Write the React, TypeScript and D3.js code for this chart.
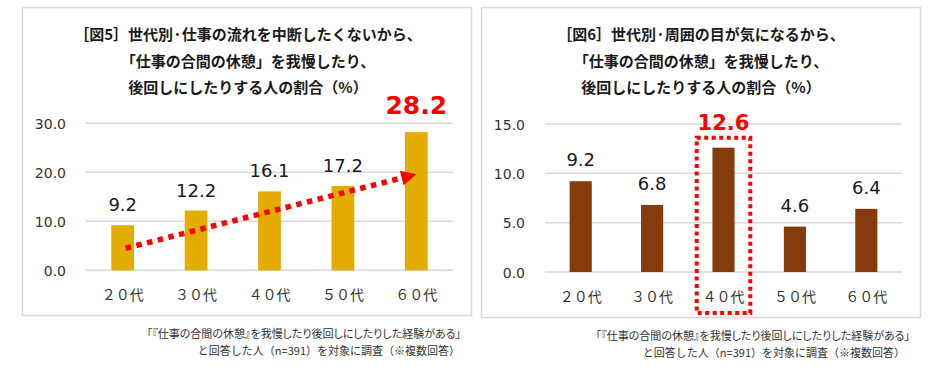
import { scaleBand, scaleLinear, select } from 'd3'
import { useEffect, useRef } from 'react'

const categories = ['２０代', '３０代', '４０代', '５０代', '６０代']
const fig5Values = [9.2, 12.2, 16.1, 17.2, 28.2]
const fig6Values = [9.2, 6.8, 12.6, 4.6, 6.4]
const fig5Ticks = [0, 10, 20, 30]
const fig6Ticks = [0, 5, 10, 15]
const fig5Title = ['［図5］世代別·仕事の流れを中断したくないから、', '「仕事の合間の休憩」を我慢したり、', '後回しにしたりする人の割合（%）']
const fig6Title = ['［図6］世代別·周囲の目が気になるから、', '「仕事の合間の休憩」を我慢したり、', '後回しにしたりする人の割合（%）']
const footnote = ['「『仕事の合間の休憩』を我慢したり後回しにしたりした経験がある」', 'と回答した人（n=391）を対象に調査（※複数回答）']
// trend arrow on fig5: start / end in data terms
const fig5Trend = [
  { category: '２０代', value: 4.5 },
  { category: '６０代', value: 19.6 },
]
const fig5Highlight = '６０代'
const fig6Highlight = '４０代'

const JP = '"Noto Sans CJK JP", "Noto Sans", sans-serif'
const NUM = '"DejaVu Sans", Verdana, sans-serif'
const RED = '#ff0000'

type Panel = {
  box: [number, number, number, number]
  xRange: [number, number]
  yRange: [number, number]
  max: number
  ticks: number[]
  values: number[]
  color: string
  title: string[]
  titleX: number
  catBaseline: number
  foot: { x: number; y: number }[]
}

function drawPanel(svg: any, p: Panel, id: string) {
  const [bx, by, bw, bh] = p.box
  const g = svg.append('g').attr('class', id)
  g.append('rect')
    .attr('x', bx)
    .attr('y', by)
    .attr('width', bw)
    .attr('height', bh)
    .attr('fill', '#fff')
    .attr('stroke', '#d9d9d9')
    .attr('stroke-width', 1.5)

  p.title.forEach((t, i) => {
    g.append('text')
      .attr('x', p.titleX)
      .attr('y', 40 + i * 26.5)
      .attr('text-anchor', 'middle')
      .attr('font-family', JP)
      .attr('font-weight', 'bold')
      .attr('font-size', 15)
      .attr('fill', '#1a1a1a')
      .text(t)
  })

  const x = scaleBand().domain(categories).range(p.xRange).paddingInner(0.69).paddingOuter(0.345)
  const y = scaleLinear().domain([0, p.max]).range(p.yRange)

  g.selectAll('line.grid')
    .data(p.ticks)
    .join('line')
    .attr('class', 'grid')
    .attr('x1', p.xRange[0])
    .attr('x2', p.xRange[1])
    .attr('y1', (d: number) => y(d))
    .attr('y2', (d: number) => y(d))
    .attr('stroke', '#d9d9d9')
    .attr('stroke-width', 1.5)

  g.selectAll('text.tick')
    .data(p.ticks)
    .join('text')
    .attr('class', 'tick')
    .attr('x', p.xRange[0] - 20)
    .attr('y', (d: number) => y(d) + 5.5)
    .attr('text-anchor', 'end')
    .attr('font-family', NUM)
    .attr('font-size', 14)
    .attr('fill', '#333')
    .text((d: number) => d.toFixed(1))

  const rows = categories.map((c, i) => ({ c, v: p.values[i] }))
  g.selectAll('rect.bar')
    .data(rows)
    .join('rect')
    .attr('class', 'bar')
    .attr('x', (d: any) => x(d.c) ?? 0)
    .attr('y', (d: any) => y(d.v))
    .attr('width', x.bandwidth())
    .attr('height', (d: any) => y(0) - y(d.v))
    .attr('fill', p.color)

  g.selectAll('text.cat')
    .data(categories)
    .join('text')
    .attr('class', 'cat')
    .attr('x', (d: string) => (x(d) ?? 0) + x.bandwidth() / 2)
    .attr('y', p.catBaseline)
    .attr('text-anchor', 'middle')
    .attr('font-family', JP)
    .attr('font-size', 14)
    .attr('fill', '#333')
    .text((d: string) => d)

  footnote.forEach((t, i) => {
    g.append('text')
      .attr('x', p.foot[i].x)
      .attr('y', p.foot[i].y)
      .attr('text-anchor', 'end')
      .attr('font-family', JP)
      .attr('font-size', 11)
      .attr('fill', '#333')
      .style('font-feature-settings', i === 0 ? '"palt"' : 'normal')
      .text(t)
  })

  return { g, x, y, rows }
}

export default function App() {
  const ref = useRef<SVGSVGElement>(null)

  useEffect(() => {
    if (!ref.current) return
    const svg = select(ref.current)
    svg.selectAll('*').remove()

    // ---- 図5
    const left = drawPanel(
      svg,
      {
        box: [22.5, 7.5, 449, 308],
        xRange: [86, 453],
        yRange: [270.3, 123.3],
        max: 30,
        ticks: fig5Ticks,
        values: fig5Values,
        color: '#e5ac00',
        title: fig5Title,
        titleX: 248,
        catBaseline: 300,
        foot: [
          { x: 461, y: 337.5 },
          { x: 460, y: 354.5 },
        ],
      },
      'fig5',
    )
    left.g
      .selectAll('text.val')
      .data(left.rows)
      .join('text')
      .attr('class', 'val')
      .attr('x', (d: any) => (left.x(d.c) ?? 0) + left.x.bandwidth() / 2)
      .attr('y', (d: any) => left.y(d.v) - (d.c === fig5Highlight ? 18 : 14))
      .attr('text-anchor', 'middle')
      .attr('font-family', NUM)
      .attr('font-weight', (d: any) => (d.c === fig5Highlight ? 'bold' : 'normal'))
      .attr('font-size', (d: any) => (d.c === fig5Highlight ? 25 : 18))
      .attr('fill', (d: any) => (d.c === fig5Highlight ? RED : '#1a1a1a'))
      .text((d: any) => d.v.toFixed(1))

    // trend arrow
    const pts = fig5Trend.map((d) => ({
      x: (left.x(d.category) ?? 0) + left.x.bandwidth() / 2,
      y: left.y(d.value),
    }))
    const [a, b] = pts
    const ang = Math.atan2(b.y - a.y, b.x - a.x)
    const head = 15
    const baseX = b.x - head * Math.cos(ang)
    const baseY = b.y - head * Math.sin(ang)
    left.g
      .append('line')
      .attr('x1', a.x + 3)
      .attr('y1', a.y)
      .attr('x2', baseX)
      .attr('y2', baseY)
      .attr('stroke', RED)
      .attr('stroke-width', 5.5)
      .attr('stroke-dasharray', '5.5 5.5')
    const nx = -Math.sin(ang) * 7.5
    const ny = Math.cos(ang) * 7.5
    left.g
      .append('path')
      .attr('d', `M${b.x},${b.y}L${baseX + nx},${baseY + ny}L${baseX - nx},${baseY - ny}Z`)
      .attr('fill', RED)

    // ---- 図6
    const right = drawPanel(
      svg,
      {
        box: [481.5, 7.5, 439, 310],
        xRange: [545, 902],
        yRange: [272, 124],
        max: 15,
        ticks: fig6Ticks,
        values: fig6Values,
        color: '#843c0c',
        title: fig6Title,
        titleX: 701,
        catBaseline: 302,
        foot: [
          { x: 910, y: 339.5 },
          { x: 905, y: 356.5 },
        ],
      },
      'fig6',
    )
    const hv = fig6Values[categories.indexOf(fig6Highlight)]
    const cx = (right.x(fig6Highlight) ?? 0) + right.x.bandwidth() / 2
    const half = right.x.step() * 0.375
    const top = right.y(hv) - 10
    right.g
      .append('rect')
      .attr('x', cx - half)
      .attr('y', top)
      .attr('width', half * 2)
      .attr('height', right.y(0) + 41 - top)
      .attr('fill', 'none')
      .attr('stroke', RED)
      .attr('stroke-width', 4)
      .attr('stroke-dasharray', '4 3.5')

    right.g
      .selectAll('text.val')
      .data(right.rows)
      .join('text')
      .attr('class', 'val')
      .attr('x', (d: any) => (right.x(d.c) ?? 0) + right.x.bandwidth() / 2)
      .attr('y', (d: any) => (d.c === fig6Highlight ? top - 8 : right.y(d.v) - 15))
      .attr('text-anchor', 'middle')
      .attr('font-family', NUM)
      .attr('font-weight', (d: any) => (d.c === fig6Highlight ? 'bold' : 'normal'))
      .attr('font-size', (d: any) => (d.c === fig6Highlight ? 21 : 18))
      .attr('fill', (d: any) => (d.c === fig6Highlight ? RED : '#1a1a1a'))
      .text((d: any) => d.v.toFixed(1))
  }, [])

  return (
    <svg
      ref={ref}
      width={929}
      height={367}
      style={{ position: 'absolute', left: 0, top: 0, background: '#fff' }}
    />
  )
}
